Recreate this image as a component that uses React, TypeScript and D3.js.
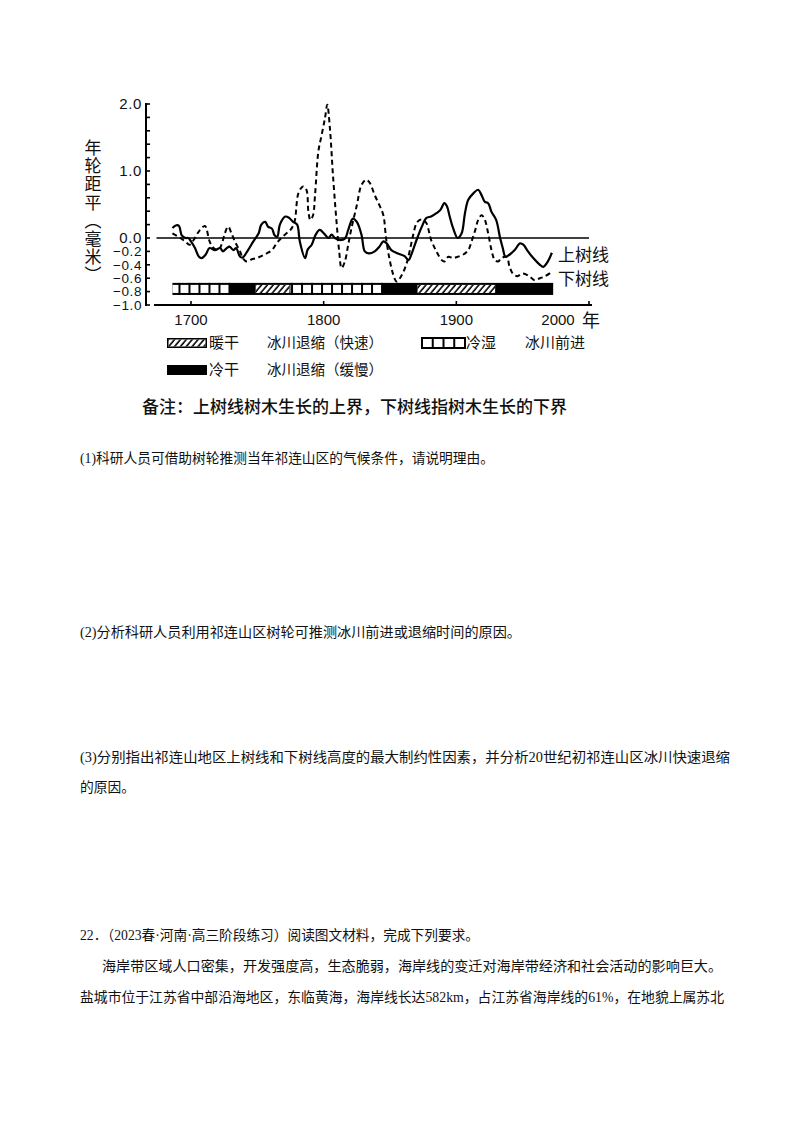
import React from 'react';
import * as d3 from 'd3';

// ---- data ----
const upperTreeline: [number, number][] = [
  [1686, 0.15], [1689, 0.19], [1691, 0.18], [1693, 0.04], [1696, 0.0], [1698, 0.0],
  [1700, -0.05], [1703, -0.15], [1706, -0.28], [1708, -0.3], [1711, -0.25], [1714, -0.15],
  [1718, -0.18], [1722, -0.15], [1724, -0.2], [1727, -0.15], [1729, -0.13], [1732, -0.18],
  [1734, -0.15], [1737, -0.28], [1739, -0.29], [1743, -0.18], [1747, -0.05], [1751, 0.07],
  [1753, 0.2], [1756, 0.24], [1758, 0.17], [1761, 0.14], [1763, 0.04], [1765, 0.02],
  [1767, 0.2], [1771, 0.32], [1774, 0.3], [1777, 0.24], [1780, 0.2], [1782, -0.05],
  [1786, -0.3], [1788, -0.17], [1791, -0.1], [1794, 0.05], [1797, 0.12], [1801, 0.05],
  [1803.5, 0.0], [1806, 0.05], [1808.5, 0.0], [1812, -0.03], [1816, -0.01], [1818.5, 0.12],
  [1822, 0.29], [1825, 0.24], [1828.5, 0.05], [1831, -0.2], [1834, -0.23], [1838.5, -0.2],
  [1842, -0.13], [1845, -0.05], [1847.5, -0.08], [1851, -0.18], [1856, -0.23], [1861, -0.27],
  [1864, -0.33], [1866, -0.25], [1870, -0.03], [1874, 0.17], [1877.5, 0.3], [1881, 0.32],
  [1885, 0.37], [1888, 0.42], [1891, 0.52], [1893, 0.47], [1895, 0.32], [1897.5, 0.15],
  [1901, 0.0], [1904, 0.07], [1906.5, 0.37], [1909, 0.57], [1913, 0.67], [1916.5, 0.72],
  [1919, 0.64], [1921.5, 0.54], [1924, 0.52], [1926.5, 0.39], [1930, 0.27], [1933, 0.0],
  [1935, -0.15], [1937, -0.28], [1940, -0.25], [1944, -0.18], [1948, -0.08], [1950.5, -0.1],
  [1954, -0.2], [1958, -0.3], [1963, -0.4], [1965.5, -0.43], [1969, -0.35], [1972, -0.22],
];

const lowerTreeline: [number, number][] = [
  [1686, 0.07], [1692, 0.0], [1695.5, -0.05], [1699, -0.1], [1702, -0.03], [1706, 0.1],
  [1710.5, 0.18], [1714, -0.05], [1717, -0.15], [1720.5, -0.18], [1723, -0.1], [1725.5, 0.07],
  [1728, 0.17], [1730.5, 0.07], [1733, -0.05], [1737, -0.2], [1739, -0.3], [1742, -0.35],
  [1745.5, -0.32], [1749.5, -0.3], [1753, -0.27], [1757, -0.23], [1761, -0.18], [1764.5, -0.08],
  [1768, 0.0], [1772, 0.07], [1775, 0.12], [1778, 0.24], [1781, 0.67], [1784.5, 0.77],
  [1787, 0.72], [1788.5, 0.39], [1790, 0.27], [1792, 0.34], [1793.5, 0.64], [1796, 1.29],
  [1798.5, 1.54], [1801, 1.79], [1802.7, 1.99], [1804.7, 1.64], [1807, 0.94], [1809.7, 0.24],
  [1811.7, -0.2], [1813.5, -0.45], [1816, -0.35], [1818.5, -0.1], [1821, 0.15], [1825, 0.49],
  [1828.5, 0.79], [1832, 0.87], [1834.5, 0.83], [1836, 0.77], [1838.5, 0.64], [1842, 0.49],
  [1845, 0.34], [1847, 0.0], [1849.5, -0.3], [1852.5, -0.55], [1855, -0.65], [1859, -0.55],
  [1862.5, -0.38], [1865, -0.18], [1867.5, 0.05], [1870, 0.22], [1872.5, 0.27], [1875, 0.27],
  [1877.5, 0.22], [1881, -0.03], [1885, -0.2], [1889, -0.33], [1891, -0.35], [1894, -0.28],
  [1897.5, -0.3], [1901, -0.28], [1905, -0.25], [1909, -0.18], [1911.5, -0.05], [1914, 0.1],
  [1916.5, 0.27], [1919, 0.34], [1921.5, 0.27], [1924, 0.07], [1926.5, -0.18], [1929, -0.33],
  [1931.5, -0.35], [1934, -0.3], [1938, -0.28], [1940, -0.42], [1942.5, -0.53], [1946, -0.57],
  [1950, -0.53], [1955, -0.57], [1959, -0.63], [1963, -0.6], [1967, -0.57], [1971, -0.52],
];

const periodBounds = [1686, 1729, 1748, 1775, 1844, 1870, 1930, 1973];
const periodTypes = ['coldwet', 'colddry', 'warmdry', 'coldwet', 'colddry', 'warmdry', 'colddry'];

const yTickValues = [2.0, 1.0, 0.0, -0.2, -0.4, -0.6, -0.8, -1.0];
const yTickLabels = ['2.0', '1.0', '0.0', '−0.2', '−0.4', '−0.6', '−0.8', '−1.0'];
const yMinorTicks = d3.range(-1.0, 2.001, 0.2);
const xTickValues = [1700, 1800, 1900, 2000];
const xTickLabels = ['1700', '1800', '1900', '2000'];

const seriesLabels = ['上树线', '下树线'];
const legendClimate = ['暖干', '冷湿', '冷干'];
const legendGlacier = ['冰川退缩（快速）', '冰川前进', '冰川退缩（缓慢）'];
const yTitle = '年轮距平（毫米）';
const note = '备注：上树线树木生长的上界，下树线指树木生长的下界';

const bodyLines = [
  '(1)科研人员可借助树轮推测当年祁连山区的气候条件，请说明理由。',
  '(2)分析科研人员利用祁连山区树轮可推测冰川前进或退缩时间的原因。',
  '(3)分别指出祁连山地区上树线和下树线高度的最大制约性因素，并分析20世纪初祁连山区冰川快速退缩',
  '的原因。',
  '22．（2023春·河南·高三阶段练习）阅读图文材料，完成下列要求。',
  '海岸带区域人口密集，开发强度高，生态脆弱，海岸线的变迁对海岸带经济和社会活动的影响巨大。',
  '盐城市位于江苏省中部沿海地区，东临黄海，海岸线长达582km，占江苏省海岸线的61%，在地貌上属苏北',
];
const bodyX = [80, 80, 80, 80, 80, 102, 80];
const bodyY = [458, 632, 757, 787, 935, 966, 997];
const bodyW = [414, 441, 650, 55, 399, 620, 644];

const SANS = '"Liberation Sans", Arial, "Noto Sans CJK SC", sans-serif';
const SERIF = '"Liberation Serif", "Noto Sans CJK SC", serif';

export default function App() {
  const x = d3.scaleLinear().domain([1700, 2000]).range([191, 589]);
  const y = d3.scaleLinear().domain([-1, 2]).range([305, 104]);
  const line = d3
    .line<[number, number]>()
    .x((d) => x(d[0]))
    .y((d) => y(d[1]))
    .curve(d3.curveCatmullRom.alpha(0.5));

  const barTop = y(-0.67);
  const barBot = y(-0.85);
  const barStart = x(periodBounds[0]);
  const barEnd = x(periodBounds[periodBounds.length - 1]);
  const axisX = 146;

  const segs: React.ReactNode[] = [];
  periodTypes.forEach((t, i) => {
    const x0 = x(periodBounds[i]);
    const x1 = x(periodBounds[i + 1]);
    if (t === 'coldwet') {
      segs.push(<rect key={'w' + i} x={x0} y={barTop + 2} width={x1 - x0} height={barBot - barTop - 4} fill="#fff" />);
      const n = Math.floor((x1 - x0) / 10);
      for (let k = 0; k <= n; k++) {
        const lx = x1 - k * 10;
        segs.push(<line key={'d' + i + '_' + k} x1={lx} x2={lx} y1={barTop} y2={barBot} stroke="#000" strokeWidth={2} />);
      }
    } else if (t === 'warmdry') {
      segs.push(<rect key={'h' + i} x={x0 + 1} y={barTop + 2} width={x1 - x0 - 2} height={barBot - barTop - 4} fill="#fff" />);
      segs.push(<rect key={'hp' + i} x={x0 + 1} y={barTop + 2} width={x1 - x0 - 2} height={barBot - barTop - 4} fill="url(#hatch)" />);
    }
  });

  const lgX = 167, lgW = 40;
  const row1 = 343, row2 = 370;

  return (
    <svg width={800} height={1132} style={{ position: 'absolute', left: 0, top: 0, background: '#fff' }}>
      <defs>
        <pattern id="hatch" patternUnits="userSpaceOnUse" width={4.5} height={4.5} patternTransform="rotate(40)">
          <line x1={1} y1={0} x2={1} y2={4.5} stroke="#000" strokeWidth={1.6} />
        </pattern>
      </defs>
      <rect x={0} y={0} width={800} height={1132} fill="#fff" />

      {/* y axis */}
      <line x1={axisX} x2={axisX} y1={y(2) - 1} y2={y(-1) + 1} stroke="#000" strokeWidth={2} />
      {yMinorTicks.map((v, i) => (
        <line key={'yt' + i} x1={axisX - 1} x2={axisX + 4} y1={y(v)} y2={y(v)} stroke="#000" strokeWidth={1.6} />
      ))}
      {yTickValues.map((v, i) => (
        <text key={'yl' + i} x={axisX - 4} y={y(v)} dy="0.36em" textAnchor="end" fontFamily={SANS} fontSize={v < 0 ? 13.5 : 15} letterSpacing={0.6} fill="#111">
          {yTickLabels[i]}
        </text>
      ))}
      <text x={91} y={139} fontFamily={SANS} fontSize={17} letterSpacing={1.2} fill="#111" style={{ writingMode: 'vertical-rl' as any }}>
        {yTitle}
      </text>

      {/* zero line */}
      <line x1={x(1674)} x2={x(2000)} y1={y(0)} y2={y(0)} stroke="#000" strokeWidth={1.6} />

      {/* climate bar */}
      <rect x={barStart} y={barTop} width={barEnd - barStart} height={barBot - barTop} fill="#000" />
      {segs}

      {/* x axis */}
      <line x1={154} x2={x(2000) + 3} y1={y(-1)} y2={y(-1)} stroke="#000" strokeWidth={2} />
      {xTickValues.map((v, i) => (
        <line key={'xt' + i} x1={x(v)} x2={x(v)} y1={y(-1)} y2={y(-1) - 4} stroke="#000" strokeWidth={1.6} />
      ))}
      {xTickValues.map((v, i) => (
        <text key={'xl' + i} x={i === xTickValues.length - 1 ? x(v) - 31 : x(v)} y={325} textAnchor="middle" fontFamily={SANS} fontSize={15} fill="#111">
          {xTickLabels[i]}
        </text>
      ))}
      <text x={x(2000) + 2} y={327} textAnchor="middle" fontFamily={SANS} fontSize={18} fill="#111">年</text>

      {/* series */}
      <path d={line(lowerTreeline) || ''} fill="none" stroke="#000" strokeWidth={2} strokeDasharray="5,3.5" />
      <path d={line(upperTreeline) || ''} fill="none" stroke="#000" strokeWidth={2.2} />
      <text x={558} y={261} fontFamily={SANS} fontSize={17} fill="#111">{seriesLabels[0]}</text>
      <text x={558} y={285} fontFamily={SANS} fontSize={17} fill="#111">{seriesLabels[1]}</text>

      {/* legend */}
      <rect x={lgX} y={row1 - 5} width={lgW} height={10} fill="#000" />
      <rect x={lgX + 1.5} y={row1 - 3.5} width={lgW - 3} height={7} fill="#fff" />
      <rect x={lgX + 1.5} y={row1 - 3.5} width={lgW - 3} height={7} fill="url(#hatch)" />
      <text x={209} y={row1} dy="0.36em" fontFamily={SANS} fontSize={15} fill="#111">{legendClimate[0]}</text>
      <text x={267} y={row1} dy="0.36em" fontFamily={SANS} fontSize={14.5} fill="#111">{legendGlacier[0]}</text>

      <rect x={422} y={row1 - 5} width={43} height={10} fill="#fff" stroke="#000" strokeWidth={2} />
      {[1, 2, 3].map((k) => (
        <line key={'sq' + k} x1={422 + k * 10.75} x2={422 + k * 10.75} y1={row1 - 5} y2={row1 + 5} stroke="#000" strokeWidth={2} />
      ))}
      <text x={466} y={row1} dy="0.36em" fontFamily={SANS} fontSize={15} fill="#111">{legendClimate[1]}</text>
      <text x={525} y={row1} dy="0.36em" fontFamily={SANS} fontSize={15} fill="#111">{legendGlacier[1]}</text>

      <rect x={lgX} y={row2 - 5} width={lgW} height={10} fill="#000" />
      <text x={209} y={row2} dy="0.36em" fontFamily={SANS} fontSize={15} fill="#111">{legendClimate[2]}</text>
      <text x={267} y={row2} dy="0.36em" fontFamily={SANS} fontSize={14.5} fill="#111">{legendGlacier[2]}</text>

      <text x={142} y={407} dy="0.36em" fontFamily={SANS} fontSize={17.5} fontWeight={500} fill="#111" textLength={425} lengthAdjust="spacingAndGlyphs">
        {note}
      </text>

      {/* body text */}
      {bodyLines.map((t, i) => (
        <text key={'b' + i} x={bodyX[i]} y={bodyY[i]} dy="0.36em" fontFamily={SERIF} fontSize={14} fill="#111" textLength={bodyW[i]} lengthAdjust="spacingAndGlyphs">
          {t}
        </text>
      ))}
    </svg>
  );
}
